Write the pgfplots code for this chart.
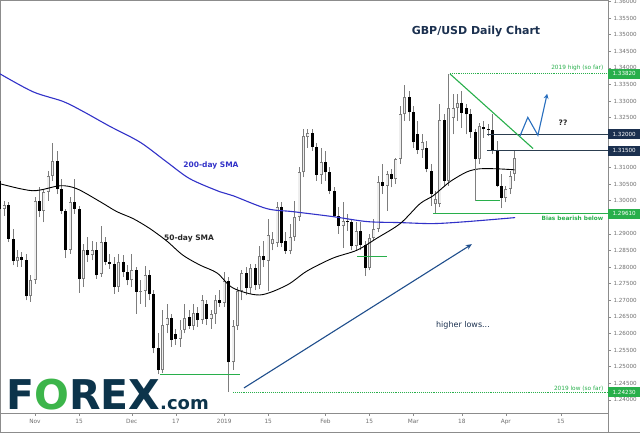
\documentclass[border=0pt]{standalone}
\usepackage{fontspec}
\setmainfont{DejaVu Sans}
\usepackage{pgfplots}
\usepackage{pgfplotstable}
\pgfplotsset{compat=1.18}
\usetikzlibrary{arrows.meta}

\definecolor{cgreen}{RGB}{40,175,75}
\definecolor{cnavy}{RGB}{27,48,79}
\definecolor{cslate}{RGB}{44,62,80}
\definecolor{csma}{RGB}{50,50,200}
\definecolor{carrow}{RGB}{31,78,140}
\definecolor{czig}{RGB}{40,110,190}
\definecolor{cwick}{RGB}{125,125,125}
\definecolor{cbody}{RGB}{125,125,125}
\definecolor{cfill}{RGB}{238,238,238}
\definecolor{ctick}{RGB}{110,110,110}
\definecolor{clogo}{RGB}{12,52,75}
\definecolor{clogog}{RGB}{60,181,74}

\pgfplotstableread{
i o h l c
-8 1.3060 1.3092 1.2960 1.2975
-7 1.2975 1.3000 1.2955 1.2988
-6 1.2988 1.2995 1.2875 1.2885
-5 1.2885 1.2915 1.2805 1.2818
-4 1.2818 1.2850 1.2800 1.2830
-3 1.2830 1.2845 1.2800 1.2822
-2 1.2822 1.2840 1.2700 1.2712
-1 1.2712 1.2775 1.2695 1.2762
0 1.2762 1.3010 1.2750 1.3000
1 1.3000 1.3040 1.2950 1.2970
2 1.2970 1.3035 1.2935 1.3027
3 1.3027 1.3090 1.3000 1.3075
4 1.3075 1.3175 1.3060 1.3120
5 1.3120 1.3150 1.3020 1.3035
6 1.3035 1.3065 1.2960 1.2970
7 1.2970 1.2975 1.2827 1.2852
8 1.2852 1.3010 1.2840 1.2995
9 1.2995 1.3065 1.2960 1.2975
10 1.2975 1.2985 1.2722 1.2765
11 1.2765 1.2870 1.2740 1.2850
12 1.2850 1.2890 1.2815 1.2835
13 1.2835 1.2880 1.2820 1.2852
14 1.2852 1.2875 1.2765 1.2775
15 1.2780 1.2925 1.2770 1.2875
16 1.2875 1.2890 1.2805 1.2815
17 1.2815 1.2840 1.2795 1.2810
18 1.2810 1.2830 1.2720 1.2740
19 1.2740 1.2840 1.2725 1.2815
20 1.2815 1.2835 1.2770 1.2785
21 1.2785 1.2805 1.2745 1.2760
22 1.2760 1.2840 1.2740 1.2790
23 1.2790 1.2800 1.2660 1.2725
24 1.2725 1.2760 1.2690 1.2728
25 1.2728 1.2803 1.2680 1.2776
26 1.2776 1.2790 1.2700 1.2718
27 1.2718 1.2730 1.2540 1.2555
28 1.2555 1.2600 1.2477 1.2490
29 1.2490 1.2670 1.2480 1.2627
30 1.2627 1.2690 1.2600 1.2648
31 1.2648 1.2660 1.2560 1.2580
32 1.2598 1.2615 1.2565 1.2582
33 1.2582 1.2640 1.2560 1.2612
34 1.2612 1.2690 1.2600 1.2648
35 1.2650 1.2670 1.2615 1.2624
36 1.2624 1.2690 1.2610 1.2663
37 1.2663 1.2680 1.2620 1.2640
38 1.2640 1.2715 1.2630 1.2700
39 1.2690 1.2700 1.2625 1.2645
40 1.2645 1.2670 1.2615 1.2660
41 1.2660 1.2715 1.2630 1.2702
42 1.2702 1.2730 1.2680 1.2692
43 1.2692 1.2785 1.2680 1.2758
44 1.2758 1.2770 1.2423 1.2513
45 1.2513 1.2640 1.2490 1.2624
46 1.2624 1.2740 1.2610 1.2728
47 1.2728 1.2790 1.2700 1.2782
48 1.2782 1.2800 1.2715 1.2737
49 1.2737 1.2810 1.2720 1.2797
50 1.2797 1.2810 1.2730 1.2745
51 1.2745 1.2863 1.2735 1.2833
52 1.2833 1.2880 1.2800 1.2820
53 1.2818 1.2946 1.2728 1.2896
54 1.2870 1.2905 1.2850 1.2885
55 1.2872 1.2997 1.2860 1.2982
56 1.2982 1.2995 1.2860 1.2872
57 1.2878 1.2905 1.2840 1.2848
58 1.2848 1.2930 1.2838 1.2890
59 1.2890 1.3000 1.2880 1.2950
60 1.2950 1.3100 1.2940 1.3085
61 1.3085 1.3215 1.3070 1.3195
62 1.3192 1.3215 1.3160 1.3205
63 1.3205 1.3215 1.3150 1.3161
64 1.3161 1.3175 1.3060 1.3078
65 1.3078 1.3160 1.3050 1.3116
66 1.3116 1.3150 1.3060 1.3085
67 1.3085 1.3100 1.3020 1.3030
68 1.3030 1.3040 1.2950 1.2955
69 1.2955 1.2980 1.2900 1.2925
70 1.2925 1.2997 1.2857 1.2940
71 1.2940 1.2960 1.2910 1.2936
72 1.2936 1.2945 1.2850 1.2863
73 1.2863 1.2935 1.2850 1.2910
74 1.2910 1.2935 1.2850 1.2866
75 1.2866 1.2880 1.2773 1.2797
76 1.2797 1.2900 1.2790 1.2887
77 1.2887 1.2945 1.2880 1.2916
78 1.2916 1.3075 1.2905 1.3057
79 1.3057 1.3110 1.3020 1.3045
80 1.3045 1.3090 1.2970 1.3081
81 1.3081 1.3095 1.3040 1.3066
82 1.3066 1.3130 1.3050 1.3125
83 1.3125 1.3284 1.3110 1.3260
84 1.3260 1.3349 1.3240 1.3313
85 1.3313 1.3330 1.3240 1.3266
86 1.3266 1.3285 1.3160 1.3176
87 1.3200 1.3240 1.3140 1.3152
88 1.3152 1.3200 1.3130 1.3176
89 1.3160 1.3180 1.3085 1.3095
90 1.3089 1.3110 1.2985 1.3020
91 1.2990 1.3030 1.2961 1.3006
92 1.2990 1.3290 1.2980 1.3243
93 1.3243 1.3260 1.3040 1.3060
94 1.3060 1.3382 1.3045 1.3280
95 1.3250 1.3320 1.3200 1.3280
96 1.3280 1.3320 1.3240 1.3295
97 1.3295 1.3330 1.3220 1.3265
98 1.3280 1.3290 1.3200 1.3260
99 1.3260 1.3275 1.3190 1.3206
100 1.3206 1.3215 1.3100 1.3125
101 1.3125 1.3235 1.3110 1.3225
102 1.3222 1.3240 1.3190 1.3215
103 1.3215 1.3230 1.3195 1.3213
104 1.3213 1.3260 1.3140 1.3152
105 1.3152 1.3180 1.3040 1.3045
106 1.3045 1.3080 1.2977 1.3009
107 1.3009 1.3045 1.2995 1.3036
108 1.3036 1.3090 1.3020 1.3075
109 1.3080 1.3150 1.3060 1.3130
}\candles

\begin{document}
\begin{tikzpicture}
\begin{axis}[
  scale only axis,
  width=608pt, height=413pt,
  xmin=-7.9545, xmax=130.227, ymin=1.23605, ymax=1.36045,
  clip=false,
  axis line style={draw=black!45, line width=0.6pt},
  tick align=outside, major tick length=3pt,
  tick style={draw=black!45, line width=0.5pt},
  xtick pos=left, ytick pos=right, yticklabel pos=right,
  xtick={0,10,22,32,43,53,66,76,86,97,107,119.5},
  xticklabels={Nov,15,Dec,17,2019,15,Feb,15,Mar,18,Apr,15},
  ytick={1.24,1.245,1.25,1.255,1.26,1.265,1.27,1.275,1.28,1.285,1.29,1.295,1.30,1.305,1.31,1.325,1.33,1.335,1.34,1.345,1.35,1.355,1.36},
  extra y ticks={1.315,1.32}, extra y tick labels={},
  scaled y ticks=false,
  /pgf/number format/assume math mode=true,
  yticklabel style={font=\fontsize{5.6}{6}\selectfont, text=ctick, /pgf/number format/fixed, /pgf/number format/fixed zerofill, /pgf/number format/precision=5, xshift=-1pt},
  xticklabel style={font=\fontsize{5.8}{6}\selectfont, text=ctick, yshift=0pt},
]
\coordinate (SW) at (rel axis cs:0,0);
\coordinate (NE) at (rel axis cs:1,1);
% wicks
\addplot[draw=none, mark=none, forget plot, error bars/.cd, y dir=plus, y explicit, error mark=none, error bar style={draw=cwick, line width=0.7pt, solid}] table[x=i, y=l, y error plus expr=\thisrow{h}-\thisrow{l}] {\candles};
% bullish outer
\addplot[draw=none, mark=none, forget plot, x filter/.expression={\thisrow{c}>=\thisrow{o} ? x : nan}, error bars/.cd, y dir=plus, y explicit, error mark=none, error bar style={draw=cbody, line width=3pt, solid}] table[x=i, y=o, y error plus expr={max(\thisrow{c}-\thisrow{o},0.0004)}] {\candles};
% bullish inner
\addplot[draw=none, mark=none, forget plot, x filter/.expression={\thisrow{c}>=\thisrow{o}+0.0007 ? x : nan}, error bars/.cd, y dir=plus, y explicit, error mark=none, error bar style={draw=cfill, line width=1.6pt, solid}] table[x=i, y expr=\thisrow{o}+0.0003, y error plus expr={\thisrow{c}-\thisrow{o}-0.0006}] {\candles};
% bearish
\addplot[draw=none, mark=none, forget plot, x filter/.expression={\thisrow{c}<\thisrow{o} ? x : nan}, error bars/.cd, y dir=plus, y explicit, error mark=none, error bar style={draw=black, line width=3pt, solid}] table[x=i, y=c, y error plus expr={max(\thisrow{o}-\thisrow{c},0.0004)}] {\candles};

% 200-day SMA
\addplot[csma, line width=1.1pt, smooth, mark=none] coordinates {
(-7.95,1.3382) (-0.45,1.3328) (6.36,1.3299) (10.9,1.3269) (17.0,1.3224) (23.9,1.3176) (30.0,1.3116) (35.2,1.3066) (42.0,1.3027) (45.0,1.3015) (52.7,1.2976) (58.6,1.2967) (67.7,1.2952) (75.5,1.2937) (83.0,1.2934) (90.5,1.2931) (98.2,1.2937) (109.1,1.2949)};
% 50-day SMA
\addplot[black, line width=0.9pt, smooth, mark=none] coordinates {
(-7.95,1.3051) (-0.5,1.3030) (5.7,1.3045) (9.5,1.3036) (14.8,1.2997) (18.6,1.2967) (22.3,1.2946) (26.1,1.2916) (30,1.2878) (33.6,1.2836) (37.5,1.2806) (41.4,1.2782) (45,1.2737) (51.1,1.2716) (57.3,1.2746) (61.8,1.2788) (67.7,1.2827) (73.2,1.2851) (77.7,1.2887) (83,1.2931) (87.5,1.2991) (90.5,1.3015) (94.3,1.3057) (98.2,1.3087) (101.1,1.3096) (105,1.3096) (109,1.3093)};

% horizontal levels
\draw[cgreen, line width=0.9pt, densely dotted] (axis cs:94.3,1.3382) -- (axis cs:130.227,1.3382);
\draw[cgreen, line width=0.9pt, densely dotted] (axis cs:45,1.2423) -- (axis cs:130.227,1.2423);
\draw[cgreen, line width=1.1pt] (axis cs:90.5,1.2961) -- (axis cs:130.227,1.2961);
\draw[cgreen, line width=1pt] (axis cs:28.4,1.2477) -- (axis cs:46.6,1.2477);
\draw[cgreen, line width=1pt] (axis cs:73.2,1.2833) -- (axis cs:80,1.2833);
\draw[cgreen, line width=1pt] (axis cs:100,1.3000) -- (axis cs:105.7,1.3000);
\draw[black!50, line width=0.6pt] (axis cs:100,1.3000) -- (axis cs:100,1.3125);
\draw[cslate, line width=1pt] (axis cs:102.7,1.3200) -- (axis cs:130.227,1.3200);
\draw[cslate, line width=1pt] (axis cs:102.7,1.3150) -- (axis cs:130.227,1.3150);
% trendline
\draw[cgreen, line width=1.1pt] (axis cs:94.3,1.3382) -- (axis cs:113.2,1.3157);
% zigzag arrow
\draw[czig, line width=1.1pt, -{Stealth[length=5pt,width=5pt]}] (axis cs:110.2,1.3194) -- (axis cs:112,1.3251) -- (axis cs:114.3,1.3197) -- (axis cs:116.4,1.3322);
% long arrow
\draw[carrow, line width=1.1pt, -{Stealth[length=6pt,width=5pt]}] (axis cs:47.5,1.2436) -- (axis cs:99.3,1.2869);

% frame pieces below the axis
\draw[black!45, line width=0.6pt] (rel axis cs:0,-0.0477) -- (rel axis cs:1.05263,-0.0477);
\draw[black!45, line width=0.6pt] (rel axis cs:1,0) -- (rel axis cs:1,-0.0484);
\draw[black!45, line width=0.6pt] (rel axis cs:0,0) -- (rel axis cs:0,-0.0484);

% right labels
\node[fill=cgreen, text=white, anchor=west, inner sep=0pt, minimum width=32pt, minimum height=10pt, font=\fontsize{5.6}{6}\selectfont] at (axis cs:130.227,1.3382) {1.33820};
\node[fill=cnavy, text=white, anchor=west, inner sep=0pt, minimum width=32pt, minimum height=10pt, font=\fontsize{5.6}{6}\selectfont] at (axis cs:130.227,1.3200) {1.32000};
\node[fill=cnavy, text=white, anchor=west, inner sep=0pt, minimum width=32pt, minimum height=10pt, font=\fontsize{5.6}{6}\selectfont] at (axis cs:130.227,1.3150) {1.31500};
\node[fill=cgreen, text=white, anchor=west, inner sep=0pt, minimum width=32pt, minimum height=10pt, font=\fontsize{5.6}{6}\selectfont] at (axis cs:130.227,1.2961) {1.29610};
\node[fill=cgreen, text=white, anchor=west, inner sep=0pt, minimum width=32pt, minimum height=10pt, font=\fontsize{5.6}{6}\selectfont] at (axis cs:130.227,1.2423) {1.24230};

% texts
\node[font=\fontsize{11}{12}\bfseries\selectfont, text=cnavy] at (rel axis cs:0.7829,0.9225) {GBP/USD Daily Chart};
\node[anchor=south east, inner sep=0.5pt, font=\fontsize{5.8}{6}\selectfont, text=cgreen] at (rel axis cs:0.99342,0.8269) {2019 high (so far)};
\node[anchor=north east, inner sep=0.5pt, font=\fontsize{5.8}{6}\bfseries\selectfont, text=cgreen] at (rel axis cs:0.99342,0.4794) {Bias bearish below};
\node[anchor=south east, inner sep=0.5pt, font=\fontsize{5.8}{6}\selectfont, text=cgreen] at (rel axis cs:0.99342,0.05206) {2019 low (so far)};
\node[font=\fontsize{7.5}{8}\bfseries\selectfont, text=csma] at (rel axis cs:0.3470,0.6005) {200-day SMA};
\node[font=\fontsize{7.5}{8}\bfseries\selectfont, text=black!85] at (rel axis cs:0.3109,0.4237) {50-day SMA};
\node[font=\fontsize{8}{9}\selectfont, text=cnavy] at (rel axis cs:0.7615,0.2131) {higher lows...};
\node[font=\fontsize{7.5}{8}\bfseries\selectfont, text=black!85] at (rel axis cs:0.9260,0.7022) {??};

% logo
\node[anchor=base west, inner sep=0pt, font=\fontsize{41}{41}\bfseries\selectfont] at (rel axis cs:0.00987,0.00726) {\textcolor{clogo}{F}\textcolor{clogog}{O}\textcolor{clogo}{REX}};
\node[anchor=base west, inner sep=0pt, font=\fontsize{18}{18}\bfseries\selectfont, text=clogo] at (rel axis cs:0.2632,0.00726) {.com};
\end{axis}
\pgfresetboundingbox
\path[use as bounding box] ([yshift=-20pt]SW) rectangle ([xshift=32pt]NE);
\end{tikzpicture}
\end{document}
